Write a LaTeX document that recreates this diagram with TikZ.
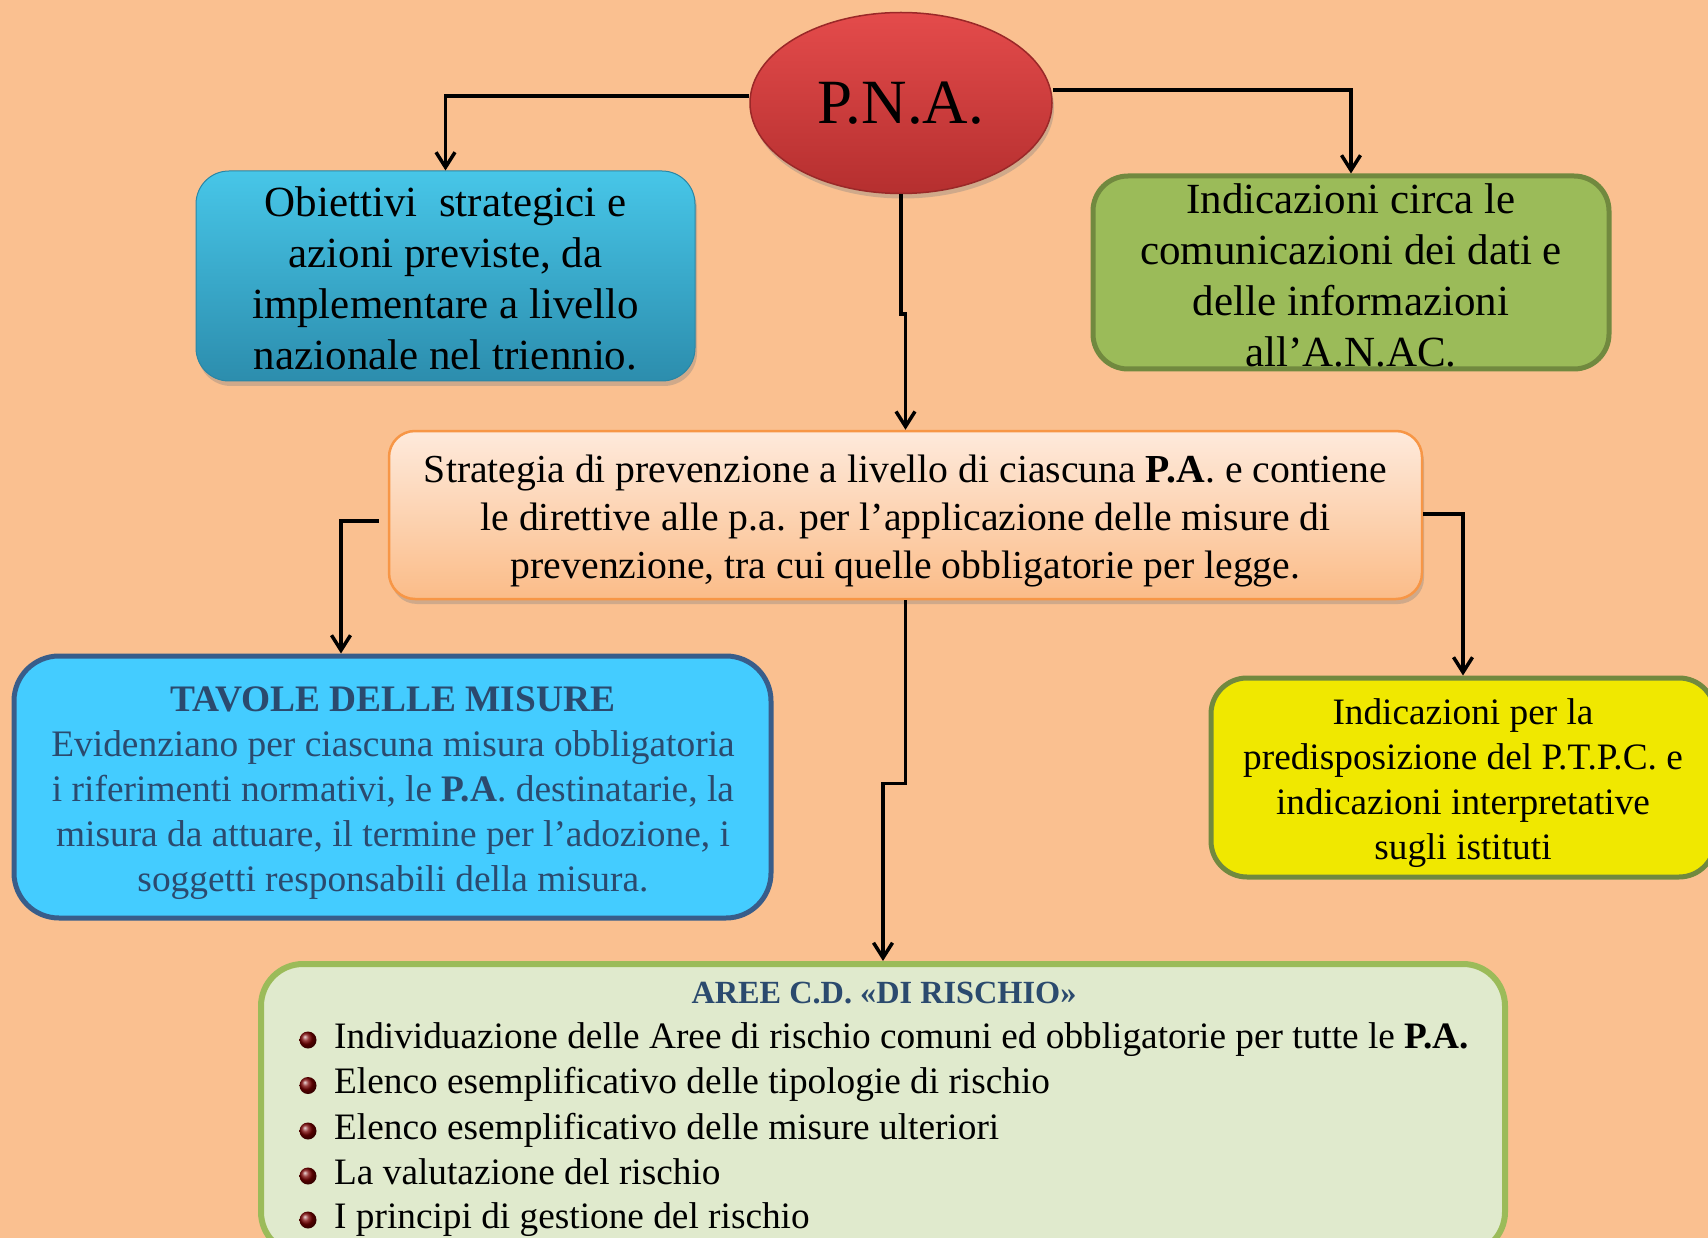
\documentclass[tikz,border=0pt]{standalone}
\usepackage{fontspec}
\setmainfont{Liberation Serif}
\usetikzlibrary{shapes.geometric,arrows.meta,shadows}
\definecolor{bg}{HTML}{FAC090}
\definecolor{objtop}{HTML}{47C6E8}
\definecolor{objbot}{HTML}{2C8DAD}
\definecolor{objline}{HTML}{2A86A5}
\definecolor{grfill}{HTML}{9BBB59}
\definecolor{grline}{HTML}{71893F}
\definecolor{strtop}{HTML}{FEEADC}
\definecolor{strbot}{HTML}{FBBC88}
\definecolor{strline}{HTML}{F79646}
\definecolor{tavfill}{HTML}{44CCFF}
\definecolor{tavline}{HTML}{385D8A}
\definecolor{tavtext}{HTML}{2B4A6E}
\definecolor{yelfill}{HTML}{F0E800}
\definecolor{areefill}{HTML}{E0EACD}
\definecolor{areeline}{HTML}{9BBB59}
\definecolor{redtop}{HTML}{E44B4B}
\definecolor{redbot}{HTML}{B52F2F}
\definecolor{redline}{HTML}{9A2828}
\definecolor{bulred}{HTML}{7A0000}
\newcommand\sst{\rule[-0.25em]{0pt}{1em}}
\begin{document}
\begin{tikzpicture}[x=1pt,y=-1pt,
  conn/.style={line width=3.5pt,-{Straight Barb[length=15pt,width=19pt,line width=3.5pt]}},
  shad/.style={drop shadow={opacity=0.35,shadow xshift=2pt,shadow yshift=-5pt}},
  boxtxt/.style={align=center,inner sep=0pt},
  f42/.style={font=\fontsize{43}{51}\selectfont},
  f39/.style={font=\fontsize{39.7}{48}\selectfont},
  f37/.style={font=\fontsize{37.4}{45}\selectfont},
  f36/.style={font=\fontsize{37.3}{44.8}\selectfont},
  bul/.style={circle,ball color=bulred,minimum size=17pt,inner sep=0pt},
  item/.style={anchor=base west,inner sep=0pt,font=\fontsize{37.3}{45}\selectfont}]
\useasboundingbox (0,0) rectangle (1708,1238);
\clip (0,0) rectangle (1708,1238);
\fill[bg] (0,0) rectangle (1708,1238);

% P.N.A. ellipse
\node[ellipse,minimum width=302pt,minimum height=181pt,inner sep=0pt,
  top color=redtop,bottom color=redbot,draw=redline,line width=1.5pt,shad,
  font=\fontsize{63}{72}\selectfont] (pna) at (901,103) {\raisebox{-5pt}{P.N.A.}};

% top-left box
\node[rectangle,rounded corners=33pt,minimum width=499pt,minimum height=210pt,inner sep=0pt,
  top color=objtop,bottom color=objbot,draw=objline,line width=1pt,shad] (obj) at (445.5,276) {};
\node[boxtxt,f42] (objt) at (445.5,282.5) {\sst Obiettivi~ strategici e\\azioni previste, da\\implementare a livello\\\sst nazionale nel triennio.};

% top-right box
\node[rectangle,rounded corners=35pt,minimum width=516pt,minimum height=193pt,inner sep=0pt,
  fill=grfill,draw=grline,line width=5pt] (ind) at (1351,272.5) {};
\node[boxtxt,f42] (indt) at (1351,279) {\sst Indicazioni circa le\\comunicazioni dei dati e\\delle informazioni\\\sst all’A.N.AC.};

% middle box
\node[rectangle,rounded corners=26pt,minimum width=1033pt,minimum height=168pt,inner sep=0pt,
  top color=strtop,bottom color=strbot,draw=strline,line width=2.5pt,shad] (strat) at (905.5,515) {};
\node[boxtxt,f39] (stratt) at (905.5,521) {\sst Strategia di prevenzione a livello di ciascuna \textbf{P.A}. e contiene\\le direttive alle p.a. per l’applicazione delle misure di\\\sst prevenzione, tra cui quelle obbligatorie per legge.};

% TAVOLE box
\node[rectangle,rounded corners=45pt,minimum width=757pt,minimum height=262pt,inner sep=0pt,
  fill=tavfill,draw=tavline,line width=5pt] (tav) at (392.5,787) {};
\node[boxtxt,f37,text=tavtext] (tavt) at (393,792) {\sst\textbf{TAVOLE DELLE MISURE}\\Evidenziano per ciascuna misura obbligatoria\\i riferimenti normativi, le \textbf{P.A}. destinatarie, la\\misura da attuare, il termine per l’adozione, i\\\sst soggetti responsabili della misura.};

% yellow box
\node[rectangle,rounded corners=36pt,minimum width=504pt,minimum height=199pt,inner sep=0pt,
  fill=yelfill,draw=grline,line width=5pt] (ptpc) at (1463,777.5) {};
\node[boxtxt,f36] (ptpct) at (1463,782.5) {\sst Indicazioni per la\\predisposizione del P.T.P.C. e\\indicazioni interpretative\\\sst sugli istituti};

% AREE box
\node[rectangle,rounded corners=42pt,minimum width=1244pt,minimum height=290pt,inner sep=0pt,
  fill=areefill,draw=areeline,line width=6pt] (aree) at (883,1109) {};
\node[anchor=base,inner sep=0pt,font=\fontsize{32.3}{38}\selectfont\bfseries,text=tavtext] (areet) at (884,1003) {AREE C.D. «DI RISCHIO»};
\node[bul] (b1) at (308,1040) {};
\node[bul] (b2) at (308,1085.5) {};
\node[bul] (b3) at (308,1131) {};
\node[bul] (b4) at (308,1176) {};
\node[bul] (b5) at (308,1220) {};
\node[item] (l1) at (334,1048) {Individuazione delle Aree di rischio comuni ed obbligatorie per tutte le \textbf{P.A.}};
\node[item] (l2) at (334,1093.5) {Elenco esemplificativo delle tipologie di rischio};
\node[item] (l3) at (334,1139) {Elenco esemplificativo delle misure ulteriori};
\node[item] (l4) at (334,1184) {La valutazione del rischio};
\node[item] (l5) at (334,1228) {I principi di gestione del rischio};

% connectors
\draw[conn] ([yshift=7pt]pna.west) -| (obj.north);
\draw[conn] ([yshift=13pt]pna.east) -| (ind.north);
\draw[conn] (pna.south) -- ++(0,120) -| (strat.north);
\draw[conn] ([xshift=-9pt,yshift=-6pt]strat.west) -| ([xshift=-51.5pt]tav.north);
\draw[conn] ([yshift=1pt]strat.east) -| (ptpc.north);
\draw[conn] (strat.south) -- ++(0,183) -| (aree.north);
\end{tikzpicture}
\end{document}
